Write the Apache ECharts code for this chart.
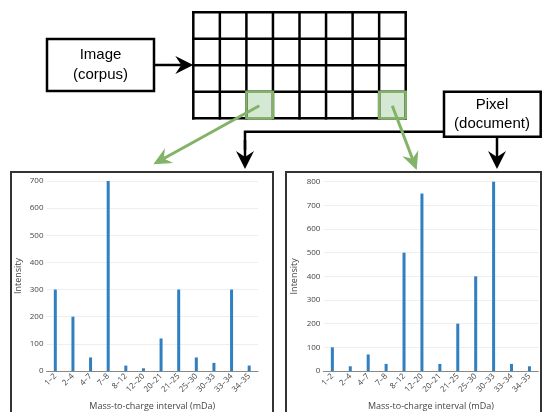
<!DOCTYPE html>
<html>
<head>
<meta charset="utf-8">
<script src="https://cdn.jsdelivr.net/npm/echarts@6/dist/echarts.min.js"></script>
<style>html,body{margin:0;padding:0;background:#fff}#c{width:542px;height:412px}</style>
</head>
<body>
<div id="c"></div>
<script>
const categories = ["1–2","2–4","4–7","7–8","8–12","12–20","20–21","21–25","25–30","30–33","33–34","34–35"];
const corpusPixelA = [300, 200, 50, 700, 20, 10, 120, 300, 50, 30, 300, 20];
const corpusPixelB = [100, 20, 70, 30, 500, 750, 30, 200, 400, 800, 30, 20];
const yTicksA = {min: 0, max: 700, step: 100};
const yTicksB = {min: 0, max: 800, step: 100};
const xTitle = "Mass-to-charge interval (mDa)";
const yTitle = "Intensity";

const chart = echarts.init(document.getElementById('c'), null, {renderer: 'canvas'});

const BLACK = '#000';
const GREEN = '#82b366';
const graphics = [];

function arrow(x1, y1, x2, y2, color, lw, L, W, notch) {
  const dx = x2 - x1, dy = y2 - y1, len = Math.hypot(dx, dy);
  const ux = dx / len, uy = dy / len, nx = -uy, ny = ux;
  const bx = x2 - L * ux, by = y2 - L * uy;
  const mx = x2 - (L - notch) * ux, my = y2 - (L - notch) * uy;
  graphics.push({type: 'line', shape: {x1, y1, x2: mx, y2: my}, style: {stroke: color, lineWidth: lw}, z: 10});
  graphics.push({type: 'polygon', shape: {points: [[x2, y2], [bx + nx * W / 2, by + ny * W / 2], [mx, my], [bx - nx * W / 2, by - ny * W / 2]]}, style: {fill: color}, z: 11});
}

// grid diagram (8 x 4)
const gx0 = 193.3, gy0 = 12.3, cw = 26.55, ch = 26.5;
// green cells
[[2, 3], [7, 3]].forEach(([c, r]) => {
  graphics.push({type: 'rect', shape: {x: gx0 + c * cw, y: gy0 + r * ch, width: cw, height: ch}, style: {fill: '#d5e8d4', stroke: null}, z: 5});
});
for (let c = 0; c <= 8; c++) {
  graphics.push({type: 'line', shape: {x1: gx0 + c * cw, y1: gy0, x2: gx0 + c * cw, y2: gy0 + 4 * ch}, style: {stroke: BLACK, lineWidth: 2.5, lineCap: 'square'}, z: 6});
}
for (let r = 0; r <= 4; r++) {
  graphics.push({type: 'line', shape: {x1: gx0, y1: gy0 + r * ch, x2: gx0 + 8 * cw, y2: gy0 + r * ch}, style: {stroke: BLACK, lineWidth: 2.5, lineCap: 'square'}, z: 6});
}
[[2, 3], [7, 3]].forEach(([c, r]) => {
  graphics.push({type: 'rect', shape: {x: gx0 + c * cw, y: gy0 + r * ch, width: cw, height: ch}, style: {fill: null, stroke: GREEN, lineWidth: 2.5}, z: 7});
});

// Image box
graphics.push({type: 'rect', shape: {x: 47, y: 39, width: 107, height: 52}, style: {fill: '#fff', stroke: BLACK, lineWidth: 2.5}, z: 6});
graphics.push({type: 'text', x: 100.5, y: 65, style: {text: 'Image\n(corpus)', fill: '#000', font: '15px "Liberation Sans", Arial, sans-serif', align: 'center', verticalAlign: 'middle', lineHeight: 20}, z: 8});
arrow(154, 65, 193.3, 65, BLACK, 2.5, 18, 18, 6);

// Pixel box
graphics.push({type: 'rect', shape: {x: 444, y: 91.7, width: 96.7, height: 45}, style: {fill: '#fff', stroke: BLACK, lineWidth: 2.5}, z: 6});
graphics.push({type: 'text', x: 492, y: 114, style: {text: 'Pixel\n(document)', fill: '#000', font: '15px "Liberation Sans", Arial, sans-serif', align: 'center', verticalAlign: 'middle', lineHeight: 19}, z: 8});

// black connector from Pixel box to left panel
graphics.push({type: 'polyline', shape: {points: [[444, 131.7], [245, 131.7], [245, 150]]}, style: {stroke: BLACK, lineWidth: 2.5, fill: null}, z: 10});
arrow(245, 140, 245, 169, BLACK, 2.5, 18, 18, 6);
arrow(497, 136.7, 497, 169, BLACK, 2.5, 18, 18, 6);

// green arrows
arrow(259.3, 105.7, 153.3, 164.3, GREEN, 3, 18, 17, 6);
arrow(392.3, 105.7, 416.7, 170, GREEN, 3, 18, 17, 6);

// panels
graphics.push({type: 'rect', shape: {x: 11, y: 172, width: 262, height: 260}, style: {fill: null, stroke: '#333', lineWidth: 2}, z: 3});
graphics.push({type: 'rect', shape: {x: 286, y: 172, width: 255, height: 260}, style: {fill: null, stroke: '#333', lineWidth: 2}, z: 3});

const FONT = '"Open Sans", sans-serif';
function xAx(idx) {
  return {
    type: 'category', gridIndex: idx, data: categories,
    axisTick: {show: false},
    axisLine: {lineStyle: {color: '#888', width: 1}},
    axisLabel: {rotate: 45, interval: 0, fontSize: 8, color: '#444', margin: 4, fontFamily: FONT},
    name: xTitle, nameLocation: 'middle', nameGap: 31,
    nameTextStyle: {fontSize: 9, color: '#444', fontFamily: FONT}
  };
}
function yAx(idx, t) {
  return {
    type: 'value', gridIndex: idx, min: t.min, max: t.max, interval: t.step,
    axisLine: {show: false}, axisTick: {show: false},
    splitLine: {lineStyle: {color: '#eee', width: 1}},
    axisLabel: {fontSize: 8, color: '#444', margin: 3, fontFamily: FONT},
    name: yTitle, nameLocation: 'middle', nameGap: 24, nameRotate: 90,
    nameTextStyle: {fontSize: 9, color: '#444', fontFamily: FONT}
  };
}

chart.setOption({
  animation: false,
  backgroundColor: '#fff',
  grid: [
    {left: 46.5, top: 181, width: 211.5, height: 190},
    {left: 323.4, top: 181.7, width: 215, height: 191.6}
  ],
  xAxis: [xAx(0), xAx(1)],
  yAxis: [yAx(0, yTicksA), yAx(1, yTicksB)],
  series: [
    {type: 'bar', xAxisIndex: 0, yAxisIndex: 0, data: corpusPixelA, barWidth: 3, itemStyle: {color: '#2f7fc1'}},
    {type: 'bar', xAxisIndex: 1, yAxisIndex: 1, data: corpusPixelB, barWidth: 3, itemStyle: {color: '#2f7fc1'}}
  ],
  graphic: graphics
});
</script>
</body>
</html>
